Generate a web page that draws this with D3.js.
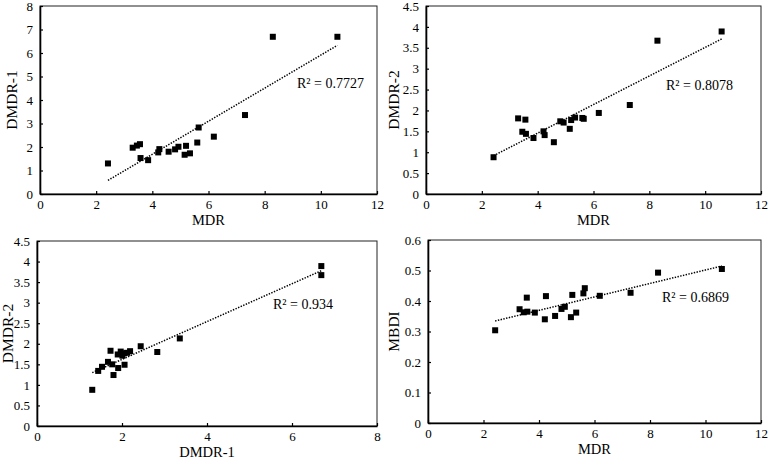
<!DOCTYPE html>
<meta charset="utf-8">
<style>
body { margin: 0; background: #fff; }
svg { display: block; }
svg text { font-family: "Liberation Serif", "Times New Roman", Times, serif; fill: #000; }
.tick text { font-size: 13px; }
.title { text-anchor: middle; }
.r2 { font-size: 14px; }
</style>
<body>
<svg width="768" height="459"></svg>
<script src="https://cdn.jsdelivr.net/npm/d3@7"></script>
<script>
// values, one entry per sample
var mdr   = [2.42, 3.30, 3.45, 3.56, 3.58, 3.85, 4.21, 4.25, 4.58, 4.81, 4.93, 5.15, 5.20, 5.34, 5.60, 5.65, 6.19, 7.30, 8.29, 10.59];
var dmdr1 = [1.30, 1.97, 2.06, 2.12, 1.53, 1.44, 1.77, 1.91, 1.80, 1.90, 2.01, 1.67, 2.05, 1.73, 2.19, 2.83, 2.44, 3.36, 6.69, 6.69];
var dmdr2 = [0.88, 1.81, 1.49, 1.78, 1.44, 1.34, 1.50, 1.41, 1.24, 1.74, 1.71, 1.56, 1.77, 1.83, 1.82, 1.80, 1.94, 2.13, 3.67, 3.89];
var mbdi  = [0.304, 0.373, 0.363, 0.411, 0.365, 0.362, 0.340, 0.416, 0.351, 0.374, 0.381, 0.347, 0.420, 0.362, 0.425, 0.442, 0.417, 0.427, 0.493, 0.505];

var r2Labels = ["R\u00b2 = 0.7727", "R\u00b2 = 0.8078", "R\u00b2 = 0.934", "R\u00b2 = 0.6869"];

var ticksMdr   = [0, 2, 4, 6, 8, 10, 12];
var ticksDmdr1 = [0, 1, 2, 3, 4, 5, 6, 7, 8];
var ticksDmdr2 = [0, 0.5, 1, 1.5, 2, 2.5, 3, 3.5, 4, 4.5];
var ticksX3    = [0, 2, 4, 6, 8];
var ticksMbdi  = [0, 0.1, 0.2, 0.3, 0.4, 0.5, 0.6];

var panels = [
  { xs: mdr,   ys: dmdr1, xt: ticksMdr, yt: ticksDmdr1, xl: "MDR",    yl: "DMDR-1", r2: r2Labels[0],
    box: [40, 6, 377, 194],   ylx: 12,  r2pos: [297, 88] },
  { xs: mdr,   ys: dmdr2, xt: ticksMdr, yt: ticksDmdr2, xl: "MDR",    yl: "DMDR-2", r2: r2Labels[1],
    box: [426, 6, 761, 194],  ylx: 394, r2pos: [666, 90] },
  { xs: dmdr1, ys: dmdr2, xt: ticksX3,  yt: ticksDmdr2, xl: "DMDR-1", yl: "DMDR-2", r2: r2Labels[2],
    box: [37, 241, 377, 426], ylx: 8,   r2pos: [273, 309] },
  { xs: mdr,   ys: mbdi,  xt: ticksMdr, yt: ticksMbdi,  xl: "MDR",    yl: "MBDI",   r2: r2Labels[3],
    box: [428, 240, 761, 423], ylx: 394, r2pos: [662, 302] }
];

var svg = d3.select("svg");
var fmt = d3.format("~g");

panels.forEach(function(p) {
  var x0 = p.box[0], y0 = p.box[1], x1 = p.box[2], y1 = p.box[3];
  var x = d3.scaleLinear().domain(d3.extent(p.xt)).range([x0, x1]);
  var y = d3.scaleLinear().domain(d3.extent(p.yt)).range([y1, y0]);
  var g = svg.append("g");

  g.append("rect")
    .attr("x", x0).attr("y", y0)
    .attr("width", x1 - x0).attr("height", y1 - y0)
    .attr("fill", "none").attr("stroke", "#222").attr("stroke-width", 1);

  var xa = g.append("g")
    .attr("transform", "translate(0," + y1 + ")")
    .call(d3.axisBottom(x).tickValues(p.xt).tickFormat(fmt).tickSizeInner(-3).tickSizeOuter(0).tickPadding(6));
  var ya = g.append("g")
    .attr("transform", "translate(" + x0 + ",0)")
    .call(d3.axisLeft(y).tickValues(p.yt).tickFormat(fmt).tickSizeInner(-3).tickSizeOuter(0).tickPadding(7));
  [xa, ya].forEach(function(a) {
    a.attr("font-family", null).attr("font-size", null);
    a.select(".domain").attr("stroke", "#000").attr("stroke-width", 1.6);
    a.selectAll(".tick line").attr("stroke", "#000").attr("stroke-width", 1.2);
  });

  // least squares trendline between the smallest and largest x
  var pts = p.xs.map(function(v, i) { return [v, p.ys[i]]; });
  var mx = d3.mean(pts, function(d) { return d[0]; });
  var my = d3.mean(pts, function(d) { return d[1]; });
  var b = d3.sum(pts, function(d) { return (d[0] - mx) * (d[1] - my); }) /
          d3.sum(pts, function(d) { return (d[0] - mx) * (d[0] - mx); });
  var a = my - b * mx;
  var ext = d3.extent(p.xs);
  g.append("path")
    .datum(ext.map(function(v) { return [v, a + b * v]; }))
    .attr("d", d3.line().x(function(d) { return x(d[0]); }).y(function(d) { return y(d[1]); }))
    .attr("fill", "none").attr("stroke", "#000")
    .attr("stroke-width", 1.5).attr("stroke-dasharray", "1.4,1.4");

  g.selectAll("rect.pt")
    .data(pts)
    .enter().append("rect")
    .attr("class", "pt")
    .attr("x", function(d) { return x(d[0]) - 3; })
    .attr("y", function(d) { return y(d[1]) - 3; })
    .attr("width", 6).attr("height", 6)
    .attr("fill", "#000");

  g.append("text").attr("class", "r2")
    .attr("x", p.r2pos[0]).attr("y", p.r2pos[1])
    .text(p.r2);

  g.append("text").attr("class", "title")
    .attr("x", (x0 + x1) / 2).attr("y", y1 + 31)
    .attr("font-size", 14.5)
    .text(p.xl);

  g.append("text").attr("class", "title")
    .attr("transform", "translate(" + (p.ylx + 5) + "," + ((y0 + y1) / 2) + ") rotate(-90)")
    .attr("font-size", 15.5)
    .text(p.yl);
});
</script>
</body>
